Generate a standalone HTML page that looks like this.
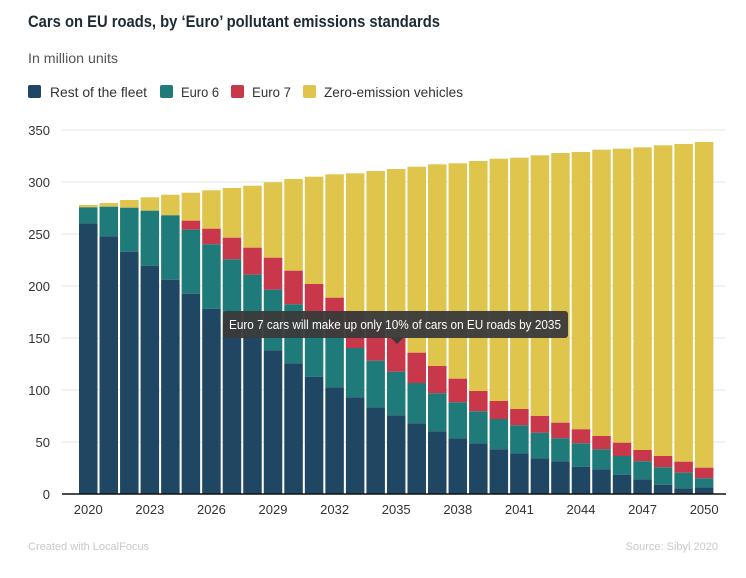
<!DOCTYPE html>
<html><head><meta charset="utf-8"><style>
body{margin:0;background:#fff;}
svg{display:block;font-family:"Liberation Sans",sans-serif;}
</style></head><body>
<svg id="s" width="746" height="578" viewBox="0 0 746 578">
<text x="28" y="27" font-size="17" font-weight="bold" fill="#1e2a33" textLength="412" lengthAdjust="spacingAndGlyphs">Cars on EU roads, by ‘Euro’ pollutant emissions standards</text>
<text x="28" y="63" font-size="14" fill="#555" textLength="90" lengthAdjust="spacingAndGlyphs">In million units</text>
<rect x="28" y="85" width="13" height="13" rx="2" fill="#1f4662"/>
<text x="50" y="97" font-size="14" fill="#333" textLength="97" lengthAdjust="spacingAndGlyphs">Rest of the fleet</text>
<rect x="160" y="85" width="13" height="13" rx="2" fill="#1f7a7a"/>
<text x="181" y="97" font-size="14" fill="#333" textLength="38" lengthAdjust="spacingAndGlyphs">Euro 6</text>
<rect x="231" y="85" width="13" height="13" rx="2" fill="#c8374a"/>
<text x="252" y="97" font-size="14" fill="#333" textLength="39" lengthAdjust="spacingAndGlyphs">Euro 7</text>
<rect x="303" y="85" width="13" height="13" rx="2" fill="#e0c54c"/>
<text x="324" y="97" font-size="14" fill="#333" textLength="139" lengthAdjust="spacingAndGlyphs">Zero-emission vehicles</text>
<g id="grid"></g>
<g id="bars"></g>
<line x1="62" y1="494" x2="726" y2="494" stroke="#111" stroke-width="1.5"/>
<g id="xl" font-size="13" fill="#333" text-anchor="middle"></g>
<rect x="223" y="311" width="345" height="27" rx="3" fill="#3a3a3a" opacity="0.95"/>
<polygon points="391,338 403,338 397,344" fill="#3a3a3a"/>
<text x="395" y="329" font-size="12.5" fill="#fff" text-anchor="middle" textLength="332" lengthAdjust="spacingAndGlyphs">Euro 7 cars will make up only 10% of cars on EU roads by 2035</text>
<text x="28" y="550" font-size="11" fill="#c8c8c8">Created with LocalFocus</text>
<text x="718" y="550" font-size="11" fill="#c8c8c8" text-anchor="end">Source: Sibyl 2020</text>
</svg>
<script>
var NS="http://www.w3.org/2000/svg";
function el(p,t,a,txt){var e=document.createElementNS(NS,t);for(var k in a)e.setAttribute(k,a[k]);if(txt!=null)e.textContent=txt;document.getElementById(p).appendChild(e);}
for(var k=0;k<=7;k++){var y=494-52*k;if(k>0)el("grid","line",{x1:62,x2:726,y1:y,y2:y,stroke:"#e6e6e6","stroke-width":1});
el("grid","text",{x:50,y:y+5,"font-size":13,fill:"#333","text-anchor":"end"},String(50*k));}
// [total, redTop(or null), tealTop, darkTop]
var D=[[205,null,207.3,223.3],[203,null,206.7,236.3],[200,null,207.7,251.7],[197.3,null,210.7,265.7],[194.7,null,215.3,279.7],
[192.7,220.7,229.7,293.7],[190.3,228.7,244.3,308.7],[188,237.7,259.3,323],[185.7,247.7,274.7,337],[182.3,257.7,289.7,350.3],
[179,270.7,304.3,363.3],[176.7,284,320,376.7],[174.3,297.7,334,387.3],[173.3,311,348,397.3],[171,324,360.7,407.3],
[169,337,371.7,415.3],[166.7,352.7,383,423.3],[164.3,366,393.3,431.3],[163.3,378.7,402.3,438.3],[161,391,411.3,443.3],
[158.7,401,419,449.3],[157.7,409,425.3,453.3],[155.3,416,432.7,458.3],[153,422.7,438.3,461.3],[152,429.3,443.3,466.7],
[149.7,436,449.3,469.3],[148.7,442.7,456,474.7],[147.3,450,461.3,479.3],[145.3,456,467.3,484.7],[144,461.7,472.7,488.3],[142,467.7,478.3,487.3]];
D.forEach(function(d,i){var x=79+20.53*i,w=18.5;
var rt=d[1]==null?d[2]:d[1];
el("bars","rect",{x:x,y:d[0],width:w,height:rt-d[0],fill:"#e0c54c"});
if(d[1]!=null)el("bars","rect",{x:x,y:d[1],width:w,height:d[2]-d[1],fill:"#c8374a"});
el("bars","rect",{x:x,y:d[2],width:w,height:d[3]-d[2],fill:"#1f7a7a"});
el("bars","rect",{x:x,y:d[3],width:w,height:494-d[3],fill:"#1f4662"});
if(i%3==0&&i<30||i==30)el("xl","text",{x:x+w/2,y:514},String(2020+i));});
</script>
</body></html>
